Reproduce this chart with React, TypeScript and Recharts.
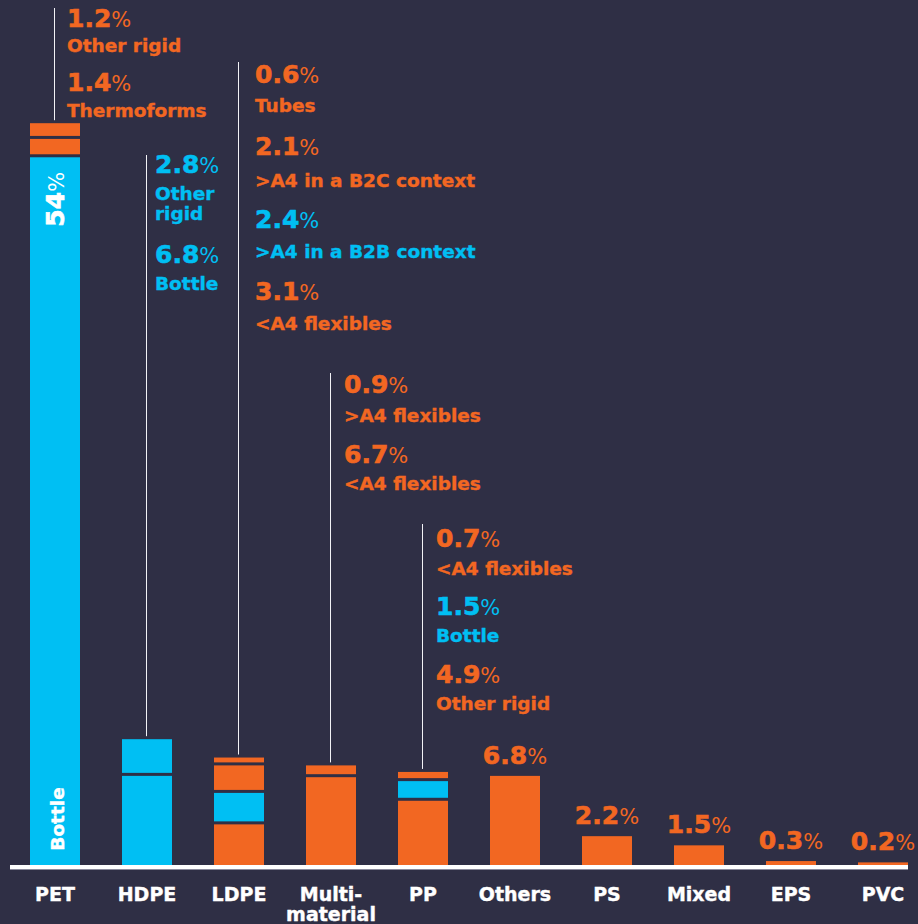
import React from 'react';
import { BarChart, Bar, XAxis, YAxis, LabelList, ReferenceLine } from 'recharts';

// ---------- data ----------
const categories = ['PET', 'HDPE', 'LDPE', 'Multi-material', 'PP', 'Others', 'PS', 'Mixed', 'EPS', 'PVC'];

// stacked segments, bottom to top
const seg1Values = [54, 6.8, 3.1, 6.7, 4.9, 6.8, 2.2, 1.5, 0.3, 0.2];
const seg2Values = [1.4, 2.8, 2.4, 0.9, 1.5, 0, 0, 0, 0, 0];
const seg3Values = [1.2, 0, 2.1, 0, 0.7, 0, 0, 0, 0, 0];
const seg4Values = [0, 0, 0.6, 0, 0, 0, 0, 0, 0, 0];

const seg1Names = ['Bottle', 'Bottle', '<A4 flexibles', '<A4 flexibles', 'Other rigid', '', '', '', '', ''];
const seg2Names = ['Thermoforms', 'Other rigid', '>A4 in a B2B context', '>A4 flexibles', 'Bottle', '', '', '', '', ''];
const seg3Names = ['Other rigid', '', '>A4 in a B2C context', '', '<A4 flexibles', '', '', '', '', ''];
const seg4Names = ['', '', 'Tubes', '', '', '', '', '', '', ''];

// material kind per segment: 'b' = blue, 'o' = orange
const seg1Kinds = ['b', 'b', 'o', 'o', 'o', 'o', 'o', 'o', 'o', 'o'];
const seg2Kinds = ['o', 'b', 'b', 'o', 'b', 'o', 'o', 'o', 'o', 'o'];
const seg3Kinds = ['o', 'o', 'o', 'o', 'o', 'o', 'o', 'o', 'o', 'o'];
const seg4Kinds = ['o', 'o', 'o', 'o', 'o', 'o', 'o', 'o', 'o', 'o'];

// ---------- styles / layout ----------
const BG = '#2f2f45';
const ORANGE = '#f26722';
const BLUE = '#00bff3';
const FONT = "'DejaVu Sans', sans-serif";
const kindColor = (k: string) => (k === 'b' ? BLUE : ORANGE);

const calloutLineTop = [8, 155, 62, 373, 524];
const calloutTextDx = [12, 8, 16, 13, 13];
const calloutBaselines: number[][][] = [
  [[27, 52], [91, 117]],
  [[173, 200, 220], [263, 290]],
  [[83, 112], [155, 187], [228, 258], [300, 330]],
  [[393, 422], [463, 490]],
  [[547, 575], [615, 642], [683, 710]],
];

const segValues = [seg1Values, seg2Values, seg3Values, seg4Values];
const segNames = [seg1Names, seg2Names, seg3Names, seg4Names];
const segKinds = [seg1Kinds, seg2Kinds, seg3Kinds, seg4Kinds];

const data = categories.map((cat, i) => ({
  cat,
  s1: seg1Values[i],
  s2: seg2Values[i],
  s3: seg3Values[i],
  s4: seg4Values[i],
}));

const totals = categories.map((_, i) => seg1Values[i] + seg2Values[i] + seg3Values[i] + seg4Values[i]);

const Pct = ({ x, y, v, color, anchor = 'start', transform }: any) => (
  <text x={x} y={y} fill={color} fontFamily={FONT} textAnchor={anchor} transform={transform}>
    <tspan fontWeight={700} fontSize={25} stroke={color} strokeWidth={0.6}>{String(v)}</tspan>
    <tspan fontWeight={400} fontSize={21}>%</tspan>
  </text>
);

const makeShape = (segIdx: number) => (props: any) => {
  const { x, y, width, height, payload } = props;
  if (!height || height <= 0) return <g />;
  const i = categories.indexOf(payload.cat);
  const gap = segIdx === 0 ? 0 : 3;
  const h = Math.max(0, height - gap);
  return <rect x={x} y={y} width={width} height={h} fill={kindColor(segKinds[segIdx][i])} />;
};

const Callout = (props: any) => {
  const vb = props.viewBox || {};
  const x = props.x ?? vb.x;
  const y = props.y ?? vb.y;
  const width = props.width ?? vb.width;
  const height = props.height ?? vb.height;
  const i = categories.indexOf(props.value);
  if (i < 0) return null;
  const cx = x + width / 2;
  const unit = height / seg1Values[i];
  const topY = y - (totals[i] - seg1Values[i]) * unit;
  const els: any[] = [];

  if (i < calloutBaselines.length) {
    els.push(
      <line key="l" x1={cx - 0.5} x2={cx - 0.5} y1={calloutLineTop[i]} y2={topY - 3} stroke="#f2f2f6" strokeWidth={1} />
    );
    const entries: { v: number; name: string; kind: string }[] = [];
    for (let s = 3; s >= 0; s--) {
      if (segValues[s][i] > 0) entries.push({ v: segValues[s][i], name: segNames[s][i], kind: segKinds[s][i] });
    }
    // PET bottom segment is labelled inside the bar
    const list = i === 0 ? entries.slice(0, 2) : entries;
    const tx = cx + calloutTextDx[i];
    list.forEach((e, j) => {
      const bl = calloutBaselines[i][j];
      if (!bl) return;
      const color = kindColor(e.kind);
      els.push(<Pct key={'p' + j} x={tx} y={bl[0]} v={e.v} color={color} />);
      const lines = bl.length > 2 ? e.name.split(' ') : [e.name];
      lines.forEach((ln, k) => {
        els.push(
          <text key={'n' + j + '_' + k} x={tx} y={bl[1 + k]} fill={color} stroke={color} strokeWidth={0.4} fontFamily={FONT} fontWeight={700} fontSize={18.5}>
            {ln}
          </text>
        );
      });
    });
  } else {
    els.push(<Pct key="p" x={cx} y={topY - 12} v={totals[i]} color={ORANGE} anchor="middle" />);
  }

  if (i === 0) {
    const tx = cx + 9;
    const ty1 = y + 42;
    const ty2 = y + height - 46;
    els.push(<Pct key="r1" x={tx} y={ty1} v={seg1Values[0]} color="#ffffff" anchor="middle" transform={`rotate(-90 ${tx} ${ty1})`} />);
    els.push(
      <text key="r2" x={tx} y={ty2} fill="#ffffff" stroke="#ffffff" strokeWidth={0.4} fontFamily={FONT} fontWeight={700} fontSize={18.5} textAnchor="middle" transform={`rotate(-90 ${tx} ${ty2})`}>
        {seg1Names[0]}
      </text>
    );
  }
  return <g>{els}</g>;
};

const Tick = (props: any) => {
  const { x, y, payload } = props;
  const label: string = payload.value;
  const lines = label.includes('-') ? [label.slice(0, label.indexOf('-') + 1), label.slice(label.indexOf('-') + 1)] : [label];
  return (
    <g>
      {lines.map((ln, k) => (
        <text key={k} x={x} y={y + 36 + k * 20} fill="#ffffff" stroke="#ffffff" strokeWidth={0.4} fontFamily={FONT} fontWeight={700} fontSize={19} textAnchor="middle">
          {ln}
        </text>
      ))}
    </g>
  );
};

const Baseline = (props: any) => {
  const { x1, y1, x2 } = props;
  const left = x1 + 1;
  const right = x2 - 21;
  return (
    <g>
      <rect x={left} y={y1} width={right - left} height={4} fill="#ffffff" />
      <line x1={left} x2={right} y1={y1 + 4.5} y2={y1 + 4.5} stroke="#8a8a9c" strokeWidth={1} />
    </g>
  );
};

export default function App() {
  return (
    <div style={{ position: 'absolute', left: 0, top: 0, width: 918, height: 924, overflow: 'hidden', background: BG }}>
      <BarChart width={930} height={924} data={data} margin={{ top: 0, right: 1, bottom: 0, left: 9 }} barSize={50}>
        <XAxis dataKey="cat" axisLine={false} tickLine={false} tickSize={0} tickMargin={0} height={59} interval={0} tick={<Tick />} />
        <YAxis hide domain={[0, 66]} allowDataOverflow />
        <Bar dataKey="s1" stackId="a" isAnimationActive={false} shape={makeShape(0)}>
          <LabelList dataKey="cat" content={<Callout />} />
        </Bar>
        <Bar dataKey="s2" stackId="a" isAnimationActive={false} shape={makeShape(1)} />
        <Bar dataKey="s3" stackId="a" isAnimationActive={false} shape={makeShape(2)} />
        <Bar dataKey="s4" stackId="a" isAnimationActive={false} shape={makeShape(3)} />
        <ReferenceLine y={0} shape={<Baseline />} ifOverflow="visible" />
      </BarChart>
    </div>
  );
}
